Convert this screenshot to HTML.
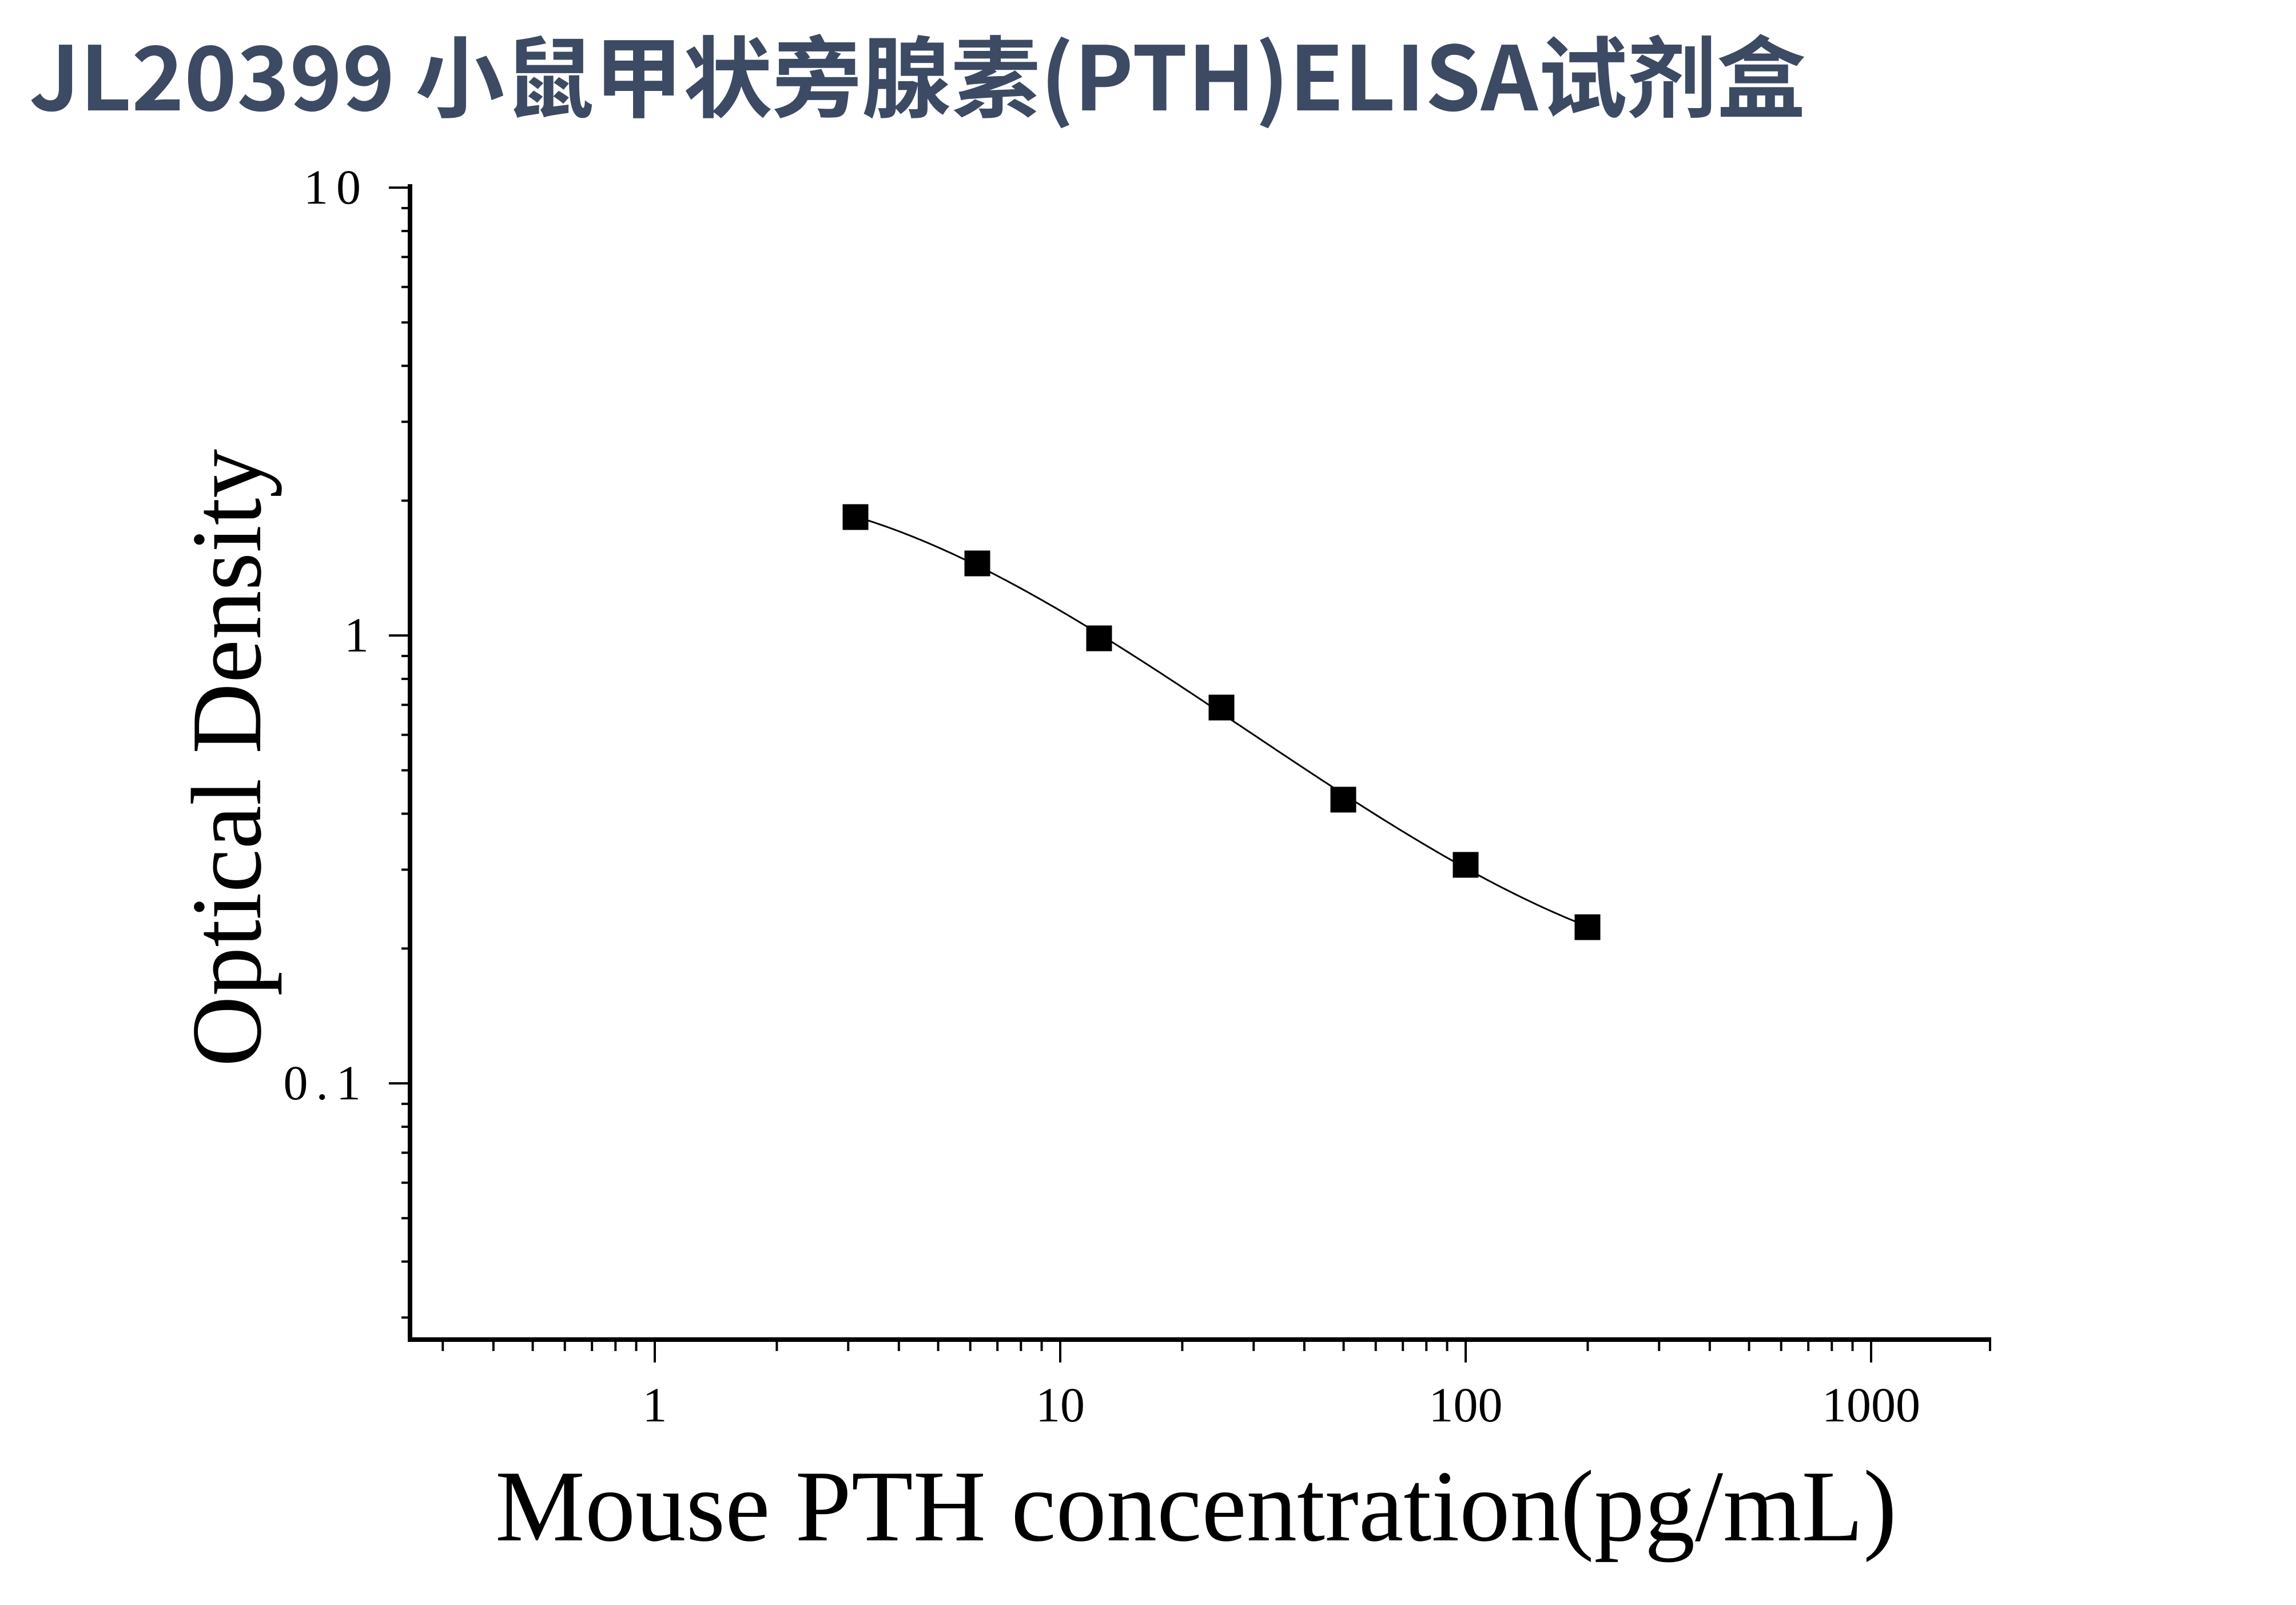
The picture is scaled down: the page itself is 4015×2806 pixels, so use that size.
<!DOCTYPE html>
<html><head><meta charset="utf-8"><style>html,body{margin:0;padding:0;background:#fff}svg{display:block}</style></head>
<body>
<svg width="4015" height="2806" viewBox="0 0 4015 2806" xmlns="http://www.w3.org/2000/svg">
<rect width="4015" height="2806" fill="#fff"/>
<text x="51" y="193" font-family="'Noto Sans CJK SC','Liberation Sans',sans-serif" font-weight="bold" font-size="155" fill="#3c4a64" textLength="3107" lengthAdjust="spacingAndGlyphs">JL20399 小鼠甲状旁腺素(PTH)ELISA试剂盒</text>
<g stroke="#000" fill="none">
<line x1="717" y1="322" x2="717" y2="2346" stroke-width="8"/>
<line x1="713" y1="2342" x2="3482" y2="2342" stroke-width="8"/>
<g stroke-width="4">
<line x1="680" y1="328" x2="717" y2="328"/>
<line x1="680" y1="1111" x2="717" y2="1111"/>
<line x1="680" y1="1894" x2="717" y2="1894"/>
<line x1="1145" y1="2342" x2="1145" y2="2382"/>
<line x1="1854" y1="2342" x2="1854" y2="2382"/>
<line x1="2563" y1="2342" x2="2563" y2="2382"/>
<line x1="3272" y1="2342" x2="3272" y2="2382"/>
<line x1="3480" y1="2342" x2="3480" y2="2362"/>
</g>
<g stroke-width="4" id="mt"></g>
</g>
<g font-family="'Liberation Serif',serif" font-size="86" fill="#000">
<text x="645" y="356" text-anchor="end" letter-spacing="14">10</text>
<text x="645" y="1139" text-anchor="end">1</text>
<text x="645" y="1922" text-anchor="end" letter-spacing="14">0.1</text>
<text x="1145" y="2485" text-anchor="middle">1</text>
<text x="1854" y="2485" text-anchor="middle">10</text>
<text x="2563" y="2485" text-anchor="middle">100</text>
<text x="3272" y="2485" text-anchor="middle">1000</text>
</g>
<text x="866" y="2693" font-family="'Liberation Serif',serif" font-size="178" fill="#000" textLength="2451" lengthAdjust="spacingAndGlyphs">Mouse PTH concentration(pg/mL)</text>
<text transform="translate(455,1865) rotate(-90)" x="0" y="0" font-family="'Liberation Serif',serif" font-size="175" fill="#000" textLength="1080" lengthAdjust="spacingAndGlyphs">Optical Density</text>
<path id="curve" fill="none" stroke="#000" stroke-width="3" d=""/>
<g id="pts" fill="#000"></g>
</svg>
<script>
(function(){
var ns="http://www.w3.org/2000/svg";
var mt=document.getElementById("mt");
function ln(x1,y1,x2,y2){var l=document.createElementNS(ns,"line");l.setAttribute("x1",x1);l.setAttribute("y1",y1);l.setAttribute("x2",x2);l.setAttribute("y2",y2);mt.appendChild(l);}
var X0=1145,DX=709;
for(var d=-1;d<=3;d++)for(var k=2;k<=9;k++){var x=X0+(d+Math.log10(k))*DX;if(x>720&&x<3480)ln(x,2342,x,2362);}
var Y1=1111,DY=783;
for(var d=-2;d<=0;d++)for(var k=2;k<=9;k++){var y=Y1-(d+Math.log10(k))*DY;if(y>330&&y<2340)ln(702,y,717,y);}
var P=[[1496,904],[1709,985],[1922,1116],[2136,1237],[2349,1398],[2563,1512],[2776,1621]];
var g=document.getElementById("pts");
P.forEach(function(p){var r=document.createElementNS(ns,"rect");r.setAttribute("x",p[0]-22.5);r.setAttribute("y",p[1]-22.5);r.setAttribute("width",45);r.setAttribute("height",45);g.appendChild(r);});
// cubic least squares fit y(t), t normalized
var n=4,A=[],B=[];
for(var i=0;i<n;i++){A.push([0,0,0,0]);B.push(0);}
P.forEach(function(p){var t=(p[0]-2136)/640;var pw=[1,t,t*t,t*t*t];for(var i=0;i<n;i++){B[i]+=pw[i]*p[1];for(var j=0;j<n;j++)A[i][j]+=pw[i]*pw[j];}});
for(var i=0;i<n;i++){var m=i;for(var r=i+1;r<n;r++)if(Math.abs(A[r][i])>Math.abs(A[m][i]))m=r;var tmp=A[i];A[i]=A[m];A[m]=tmp;var tb=B[i];B[i]=B[m];B[m]=tb;
for(var r=0;r<n;r++){if(r==i)continue;var f=A[r][i]/A[i][i];for(var c=i;c<n;c++)A[r][c]-=f*A[i][c];B[r]-=f*B[i];}}
var co=[];for(var i=0;i<n;i++)co.push(B[i]/A[i][i]);
var s="";
for(var x=1496;x<=2776;x+=8){var t=(x-2136)/640;var y=co[0]+co[1]*t+co[2]*t*t+co[3]*t*t*t;s+=(s?" L":"M")+x+","+y.toFixed(1);}
document.getElementById("curve").setAttribute("d",s);
})();
</script>
</body></html>
